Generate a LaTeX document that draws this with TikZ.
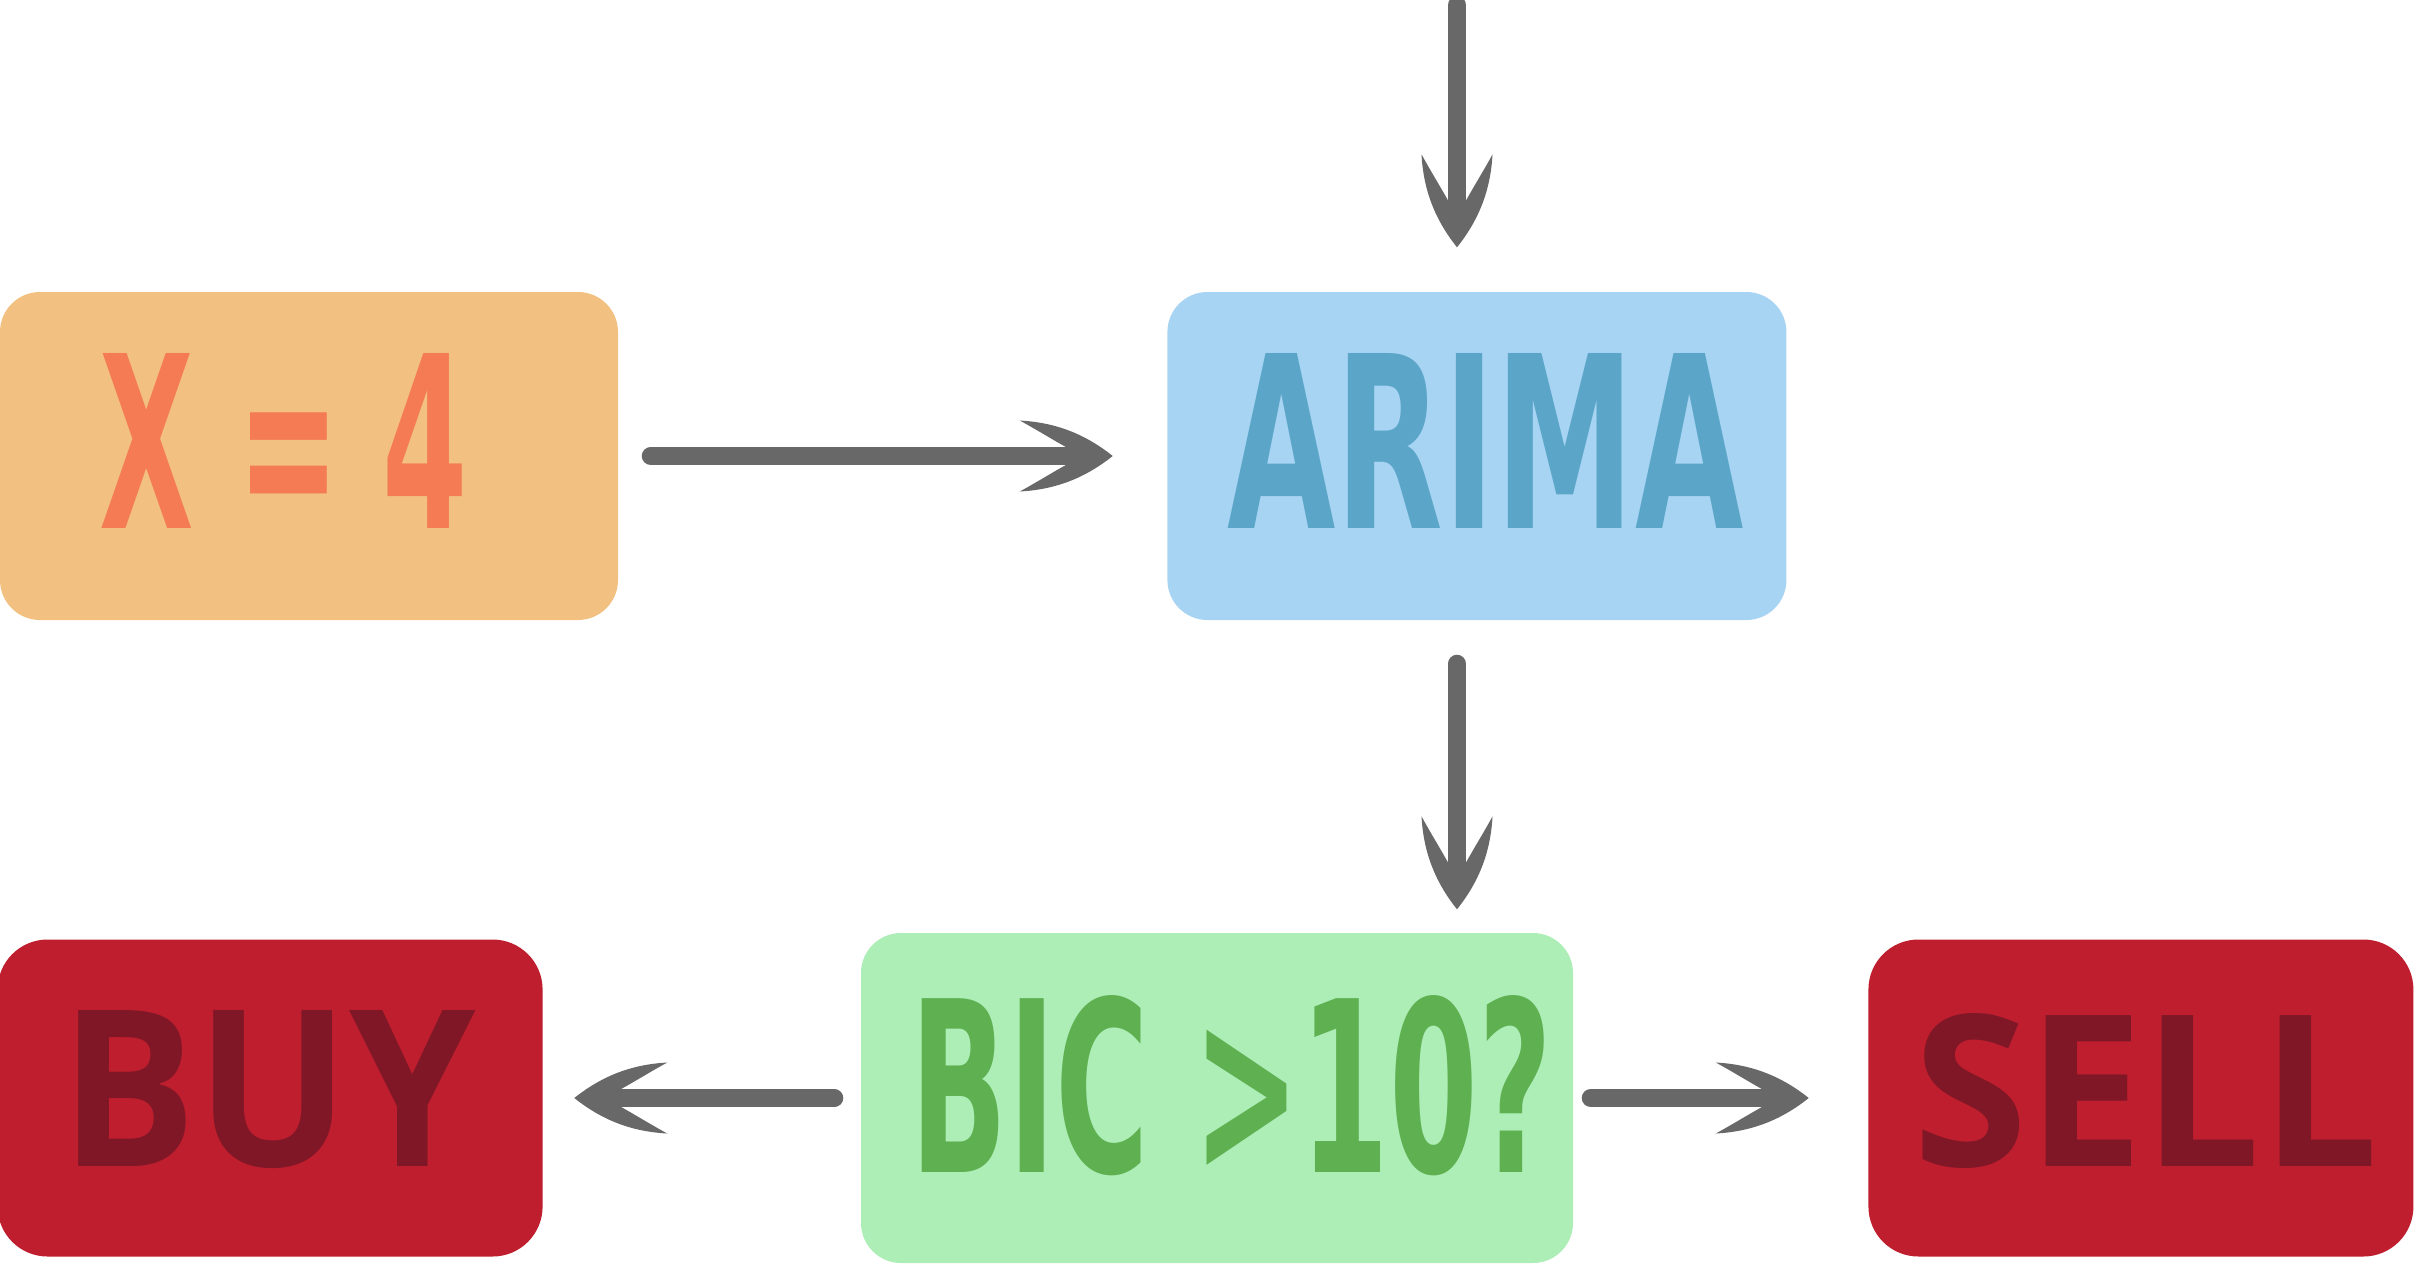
\documentclass[tikz,border=0pt]{standalone}
\usepackage{fontspec}
\setmainfont{Open Sans}
\newfontfamily\condfont{DejaVu Sans}
\usetikzlibrary{arrows.meta, positioning}

\definecolor{xfill}{HTML}{F2C182}
\definecolor{xtext}{HTML}{F47B54}
\definecolor{arimafill}{HTML}{A8D4F4}
\definecolor{arimatext}{HTML}{5BA6C8}
\definecolor{bicfill}{HTML}{ADEEB7}
\definecolor{bictext}{HTML}{5FB051}
\definecolor{tradefill}{HTML}{BE1E2E}
\definecolor{tradetext}{HTML}{7F1726}
\definecolor{arrowgray}{HTML}{686868}

% swept arrow head with curved wings
\pgfdeclarearrow{
  name = Swept,
  parameters = {\the\pgfarrowlength,\the\pgfarrowwidth},
  setup code = {
    \pgfarrowssettipend{0pt}
    \pgfarrowssetlineend{-0.3\pgfarrowlength}
    \pgfarrowssetvisualbackend{-0.3\pgfarrowlength}
    \pgfarrowssetbackend{-\pgfarrowlength}
    \pgfarrowshullpoint{0pt}{0pt}
    \pgfarrowshullpoint{-\pgfarrowlength}{0.5\pgfarrowwidth}
    \pgfarrowshullpoint{-\pgfarrowlength}{-0.5\pgfarrowwidth}
    \pgfarrowssavethe\pgfarrowlength
    \pgfarrowssavethe\pgfarrowwidth
  },
  drawing code = {
    \pgfpathmoveto{\pgfqpoint{0pt}{0pt}}
    \pgfpathcurveto{\pgfpoint{-0.32\pgfarrowlength}{0.335\pgfarrowwidth}}
      {\pgfpoint{-0.645\pgfarrowlength}{0.475\pgfarrowwidth}}
      {\pgfpoint{-\pgfarrowlength}{0.5\pgfarrowwidth}}
    \pgfpathcurveto{\pgfpoint{-0.8\pgfarrowlength}{0.36\pgfarrowwidth}}
      {\pgfpoint{-0.54\pgfarrowlength}{0.14\pgfarrowwidth}}
      {\pgfpoint{-0.32\pgfarrowlength}{0pt}}
    \pgfpathcurveto{\pgfpoint{-0.54\pgfarrowlength}{-0.14\pgfarrowwidth}}
      {\pgfpoint{-0.8\pgfarrowlength}{-0.36\pgfarrowwidth}}
      {\pgfpoint{-\pgfarrowlength}{-0.5\pgfarrowwidth}}
    \pgfpathcurveto{\pgfpoint{-0.645\pgfarrowlength}{-0.475\pgfarrowwidth}}
      {\pgfpoint{-0.32\pgfarrowlength}{-0.335\pgfarrowwidth}}
      {\pgfqpoint{0pt}{0pt}}
    \pgfpathclose
    \pgfusepathqfill
  },
  defaults = {length=9.3mm, width=7.1mm}
}

\tikzset{
  box/.style={rectangle, rounded corners=4mm, inner sep=0pt, minimum height=3.28cm},
  tradebox/.style={box, fill=tradefill, rounded corners=5mm, minimum width=5.45cm, minimum height=3.17cm},
  flow/.style={draw=arrowgray, line width=1.8mm, line cap=round,
    -{Swept[length=9.3mm, width=7.1mm]}},
}

\begin{document}
\begin{tikzpicture}
    \useasboundingbox (0,0) rectangle (24.14,12.63);
    %
    \node [box, fill=xfill, minimum width=6.18cm,
      label={[xshift=-2.5mm, yshift=1.55mm, text=xtext]center:\resizebox{3.68cm}{1.75cm}{\condfont\bfseries X = 4}}]
      (xbox) at (3.09,8.07) {};
    \node [box, fill=arimafill, minimum width=6.19cm, right=5.48cm of xbox,
      label={[xshift=0.85mm, yshift=1.55mm, text=arimatext]center:\resizebox{5.16cm}{1.75cm}{\condfont\bfseries ARIMA}}]
      (arima) {};
    \node [box, fill=bicfill, minimum width=7.12cm, minimum height=3.3cm,
      label={[xshift=1.45mm, yshift=1.25mm, text=bictext]center:\resizebox{6.41cm}{1.77cm}{\condfont\bfseries BIC >10?}}]
      (bic) at (12.17,1.65) {};
    \node [tradebox, left=3.17cm of bic,
      label={[xshift=-0.2mm, yshift=0.85mm, text=tradetext]center:\resizebox{4.16cm}{1.56cm}{\bfseries BUY}}]
      (buy) {};
    \node [tradebox, right=2.94cm of bic,
      label={[xshift=0.5mm, yshift=0.7mm, text=tradetext]center:\resizebox{4.65cm}{1.53cm}{\bfseries SELL}}]
      (sell) {};
    %
    \coordinate (in) at (14.57,12.58);
    \draw [flow, shorten >=4.4mm] (in) -- (in |- arima.north);
    \draw [flow, shorten <=3.2mm, shorten >=5.4mm] (xbox) -- (arima);
    \draw [flow, shorten <=4.3mm, shorten >=2.3mm] (in |- arima.south) -- (in |- bic.north);
    \draw [flow, shorten <=2.6mm, shorten >=3.1mm] (bic) -- (buy);
    \draw [flow, shorten <=1.7mm, shorten >=5.9mm] (bic) -- (sell);
\end{tikzpicture}
\end{document}
